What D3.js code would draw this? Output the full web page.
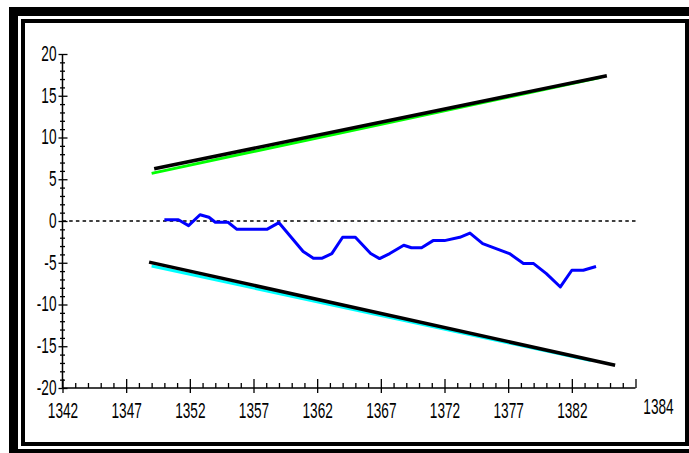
<!DOCTYPE html>
<html lang="en">
<head>
<meta charset="UTF-8">
<title>Trend chart</title>
<script src="https://cdnjs.cloudflare.com/ajax/libs/d3/7.8.5/d3.min.js"></script>
<style>
    body { margin: 0; background: #fff; }
    svg { display: block; }
</style>
</head>
<body>
<div id="draw-here"></div>
<script>
    // Axis ticks
    var xMajorTicks = [1342, 1347, 1352, 1357, 1362, 1367, 1372, 1377, 1382];
    var xEndTick = 1387;
    var xEndLabel = "1384";
    var yMajorTicks = [-20, -15, -10, -5, 0, 5, 10, 15, 20];

    // Upper and lower bound lines (start / end points)
    var upperBlackYears = [1349.2, 1384.75];
    var upperBlackValues = [6.25, 17.4];
    var upperGreenYears = [1349.0, 1384.3];
    var upperGreenValues = [5.7, 17.22];
    var lowerBlackYears = [1348.8, 1385.4];
    var lowerBlackValues = [-4.93, -17.28];
    var lowerCyanYears = [1349.0, 1383.5];
    var lowerCyanValues = [-5.4, -16.72];

    // Blue series
    var blueYears = [1350.0, 1351.1, 1351.9, 1352.8, 1353.5, 1354.0, 1355.0, 1355.7, 1358.05, 1359.0,
        1360.9, 1361.7, 1362.4, 1363.15, 1364.0, 1365.0, 1366.2, 1366.9, 1367.7, 1368.8,
        1369.4, 1370.2, 1371.1, 1372.0, 1373.2, 1374.0, 1375.0, 1377.1, 1378.2, 1379.0,
        1380.0, 1381.1, 1382.0, 1382.9, 1383.9];
    var blueValues = [0.15, 0.15, -0.55, 0.75, 0.45, -0.15, -0.15, -1.0, -1.0, -0.2,
        -3.65, -4.45, -4.45, -3.9, -1.95, -1.95, -3.9, -4.5, -3.9, -2.9,
        -3.2, -3.2, -2.35, -2.35, -1.95, -1.45, -2.7, -3.9, -5.1, -5.1,
        -6.3, -7.9, -5.9, -5.9, -5.45];

    var w = 689;
    var h = 453;
    var textScale = 0.62;

    var svg = d3.select("#draw-here")
        .append("svg")
        .attr("width", w)
        .attr("height", h);

    // Double frame
    svg.append("rect")
        .attr("x", 13.5).attr("y", 11.5)
        .attr("width", 690).attr("height", 442)
        .attr("fill", "none").attr("stroke", "#000").attr("stroke-width", 9);
    svg.append("rect")
        .attr("x", 23).attr("y", 21)
        .attr("width", 664).attr("height", 423)
        .attr("fill", "#fff").attr("stroke", "#000").attr("stroke-width", 4);

    var x = d3.scaleLinear().domain([1342, xEndTick]).range([62.5, 635.5]);
    var y = d3.scaleLinear().domain([-20, 20]).range([388, 54]);

    var yMinor = d3.range(-20, 21).filter(function(d) { return d % 5 !== 0; });
    var xMinor = d3.range(1342, xEndTick).filter(function(d) { return xMajorTicks.indexOf(d) < 0; });

    function style_axis(g) {
        g.selectAll("line").attr("stroke", "#000").attr("stroke-width", 1.3);
        g.selectAll("path.domain").remove();
    }

    // Y axis: ticks crossing the line
    var yAxis = svg.append("g").attr("transform", "translate(" + x(1342) + ",0)");
    yAxis.append("g").call(d3.axisLeft(y).tickValues(yMajorTicks).tickSize(4)
        .tickFormat(function(d) { return d; })).call(style_axis);
    yAxis.append("g").call(d3.axisRight(y).tickValues(yMajorTicks).tickSize(5).tickFormat("")).call(style_axis);
    yAxis.append("g").call(d3.axisLeft(y).tickValues(yMinor).tickSize(2.5).tickFormat("")).call(style_axis);
    yAxis.append("g").call(d3.axisRight(y).tickValues(yMinor).tickSize(2.5).tickFormat("")).call(style_axis);
    yAxis.append("line")
        .attr("x1", 0).attr("x2", 0).attr("y1", y(20)).attr("y2", y(-20))
        .attr("stroke", "#000").attr("stroke-width", 1.5);

    // X axis
    var xAxis = svg.append("g").attr("transform", "translate(0," + y(-20) + ")");
    xAxis.append("g").call(d3.axisBottom(x).tickValues(xMajorTicks).tickSize(5)
        .tickFormat(function(d) { return d; })).call(style_axis);
    xAxis.append("g").call(d3.axisTop(x).tickValues(xMajorTicks.concat([xEndTick])).tickSize(9).tickFormat("")).call(style_axis);
    xAxis.append("g").call(d3.axisTop(x).tickValues(xMinor).tickSize(5).tickFormat("")).call(style_axis);
    xAxis.append("line")
        .attr("x1", x(1342)).attr("x2", x(xEndTick)).attr("y1", 0).attr("y2", 0)
        .attr("stroke", "#000").attr("stroke-width", 1.5);

    // Narrow tick labels
    svg.selectAll(".tick text")
        .attr("font-family", "'Liberation Sans', Arial, sans-serif")
        .attr("font-size", "22px")
        .attr("fill", "#000");
    yAxis.selectAll(".tick text")
        .attr("x", -6 / textScale)
        .attr("dy", "0.29em")
        .attr("transform", "scale(" + textScale + ",1)");
    xAxis.selectAll(".tick text")
        .attr("y", 30)
        .attr("dy", 0)
        .attr("transform", "scale(" + textScale + ",1)");

    svg.append("text")
        .attr("transform", "translate(" + (x(xEndTick) + 23) + "," + (y(-20) + 26) + ") scale(" + textScale + ",1)")
        .attr("text-anchor", "middle")
        .attr("font-family", "'Liberation Sans', Arial, sans-serif")
        .attr("font-size", "22px")
        .text(xEndLabel);

    // Zero reference line
    svg.append("line")
        .attr("x1", x(1342)).attr("x2", x(xEndTick))
        .attr("y1", y(0)).attr("y2", y(0))
        .attr("stroke", "#000").attr("stroke-width", 1.5)
        .attr("stroke-dasharray", "3.5,3.2");

    function zip(xs, ys) {
        return xs.map(function(d, i) { return [d, ys[i]]; });
    }

    var line = d3.line()
        .x(function(d) { return x(d[0]); })
        .y(function(d) { return y(d[1]); });

    function draw_line(points, colour, width) {
        svg.append("path")
            .datum(points)
            .attr("d", line)
            .attr("fill", "none")
            .attr("stroke", colour)
            .attr("stroke-width", width)
            .attr("stroke-linejoin", "round");
    }

    draw_line(zip(upperGreenYears, upperGreenValues), "#00ff00", 3);
    draw_line(zip(lowerCyanYears, lowerCyanValues), "#00ffff", 3);
    draw_line(zip(upperBlackYears, upperBlackValues), "#000", 3.5);
    draw_line(zip(lowerBlackYears, lowerBlackValues), "#000", 3.5);
    draw_line(zip(blueYears, blueValues), "#0000ff", 3);
</script>
</body>
</html>
